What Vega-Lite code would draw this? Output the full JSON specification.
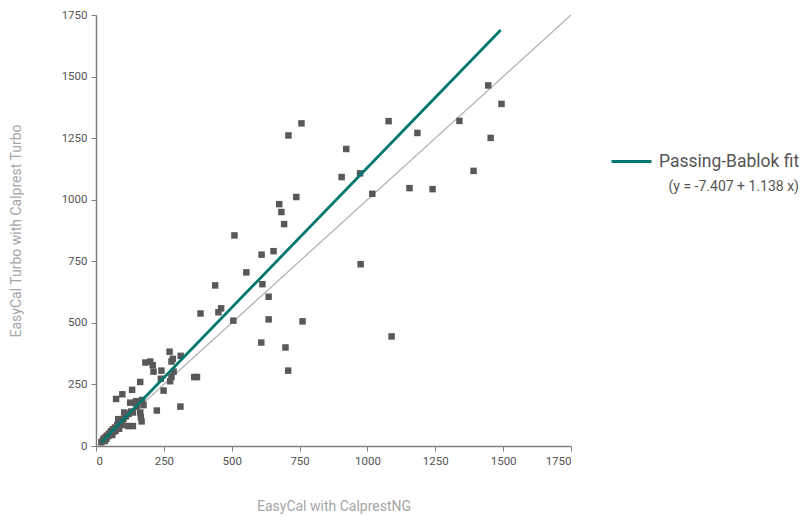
{
  "$schema": "https://vega.github.io/schema/vega-lite/v6.json",
  "autosize": "none",
  "width": 475,
  "height": 431,
  "padding": {"left": 96, "top": 15, "right": 240, "bottom": 71},
  "background": "white",
  "config": {
    "view": {"stroke": null},
    "font": "Roboto",
    "axis": {"grid": false, "format": "d", "domainColor": "#7f7f7f", "domainWidth": 1.5, "tickColor": "#7f7f7f", "tickSize": 5, "labelColor": "#555555", "labelFontSize": 11.5, "labelFont": "Roboto", "titleFont": "Roboto", "titleColor": "#a6a6a6", "titleFontSize": 14, "titleFontWeight": "normal"}
  },
  "datasets": {
    "pts": [
      {"x":757,"y":1310},{"x":709,"y":1261},{"x":1078,"y":1319},{"x":1184,"y":1271},{"x":1339,"y":1320},{"x":922,"y":1206},{"x":1445,"y":1464},{"x":1494,"y":1389},{"x":1454,"y":1251},{"x":1391,"y":1117},{"x":1155,"y":1047},{"x":1240,"y":1043},{"x":1018,"y":1024},{"x":973,"y":1107},{"x":905,"y":1092},{"x":738,"y":1011},{"x":675,"y":982},{"x":683,"y":950},{"x":693,"y":901},{"x":510,"y":855},{"x":975,"y":738},{"x":654,"y":791},{"x":610,"y":777},{"x":554,"y":705},{"x":439,"y":652},{"x":613,"y":657},{"x":636,"y":606},{"x":461,"y":559},{"x":451,"y":543},{"x":385,"y":538},{"x":506,"y":509},{"x":636,"y":514},{"x":761,"y":506},{"x":609,"y":420},{"x":698,"y":400},{"x":708,"y":306},{"x":1089,"y":445},
      {"x":362,"y":280},{"x":372,"y":280},{"x":271,"y":383},{"x":283,"y":354},{"x":312,"y":366},{"x":278,"y":343},{"x":182,"y":339},{"x":200,"y":343},{"x":209,"y":328},{"x":212,"y":302},{"x":241,"y":306},{"x":286,"y":302},{"x":163,"y":260},{"x":239,"y":273},{"x":273,"y":263},{"x":278,"y":280},{"x":249,"y":225},{"x":133,"y":228},{"x":97,"y":210},{"x":74,"y":191},{"x":126,"y":176},{"x":148,"y":182},{"x":170,"y":187},{"x":175,"y":166},{"x":224,"y":144},{"x":311,"y":160},{"x":104,"y":136},{"x":136,"y":136},{"x":163,"y":136},{"x":165,"y":117},{"x":168,"y":100},{"x":82,"y":109},{"x":101,"y":109},{"x":119,"y":81},{"x":136,"y":81},
      {"x":20,"y":15},{"x":25,"y":22},{"x":28,"y":30},{"x":32,"y":20},{"x":35,"y":35},{"x":38,"y":28},{"x":40,"y":42},{"x":45,"y":40},{"x":48,"y":50},{"x":52,"y":45},{"x":55,"y":60},{"x":58,"y":52},{"x":62,"y":68},{"x":65,"y":58},{"x":70,"y":75},{"x":72,"y":62},{"x":78,"y":85},{"x":85,"y":70},{"x":90,"y":95},{"x":95,"y":85},{"x":60,"y":45},{"x":110,"y":120},{"x":120,"y":130},{"x":150,"y":160},{"x":145,"y":175},{"x":130,"y":140}
    ],
    "identity": [{"x":15,"y":15},{"x":1750,"y":1750}],
    "fit": [{"x":20,"y":15.4,"series":"Passing-Bablok fit"},{"x":1491,"y":1689.4,"series":"Passing-Bablok fit"}]
  },
  "layer": [
    {
      "data": {"name": "identity"},
      "mark": {"type": "line", "color": "#b3b3b3", "strokeWidth": 1.3},
      "encoding": {
        "x": {"field": "x", "type": "quantitative", "scale": {"domain": [0, 1750], "nice": false}, "axis": {"values": [0,250,500,750,1000,1250,1500,1750], "title": "EasyCal with CalprestNG", "titlePadding": 33, "labelPadding": 4}},
        "y": {"field": "y", "type": "quantitative", "scale": {"domain": [0, 1750], "nice": false}, "axis": {"values": [0,250,500,750,1000,1250,1500,1750], "title": "EasyCal Turbo with Calprest Turbo", "titlePadding": 38, "labelPadding": 4}}
      }
    },
    {
      "data": {"name": "pts"},
      "mark": {"type": "point", "shape": "square", "filled": true, "size": 42, "color": "#58585a", "opacity": 1},
      "encoding": {
        "x": {"field": "x", "type": "quantitative"},
        "y": {"field": "y", "type": "quantitative"}
      }
    },
    {
      "data": {"name": "fit"},
      "mark": {"type": "line", "strokeWidth": 2.8},
      "encoding": {
        "x": {"field": "x", "type": "quantitative"},
        "y": {"field": "y", "type": "quantitative"},
        "color": {"field": "series", "type": "nominal", "scale": {"domain": ["Passing-Bablok fit"], "range": ["#00776f"]},
          "legend": {"orient": "none", "legendX": 514, "legendY": 125, "title": "(y = -7.407 + 1.138 x)", "titleOrient": "bottom", "titleAnchor": "end", "titleFontSize": 14, "titleFontWeight": "normal", "titleColor": "#555555", "titlePadding": 10, "labelFontSize": 17.5, "labelColor": "#555555", "labelFont": "Roboto", "titleFont": "Roboto", "symbolType": "stroke", "symbolSize": 1600, "symbolStrokeWidth": 2.8, "labelOffset": 6}
        }
      }
    }
  ]
}
